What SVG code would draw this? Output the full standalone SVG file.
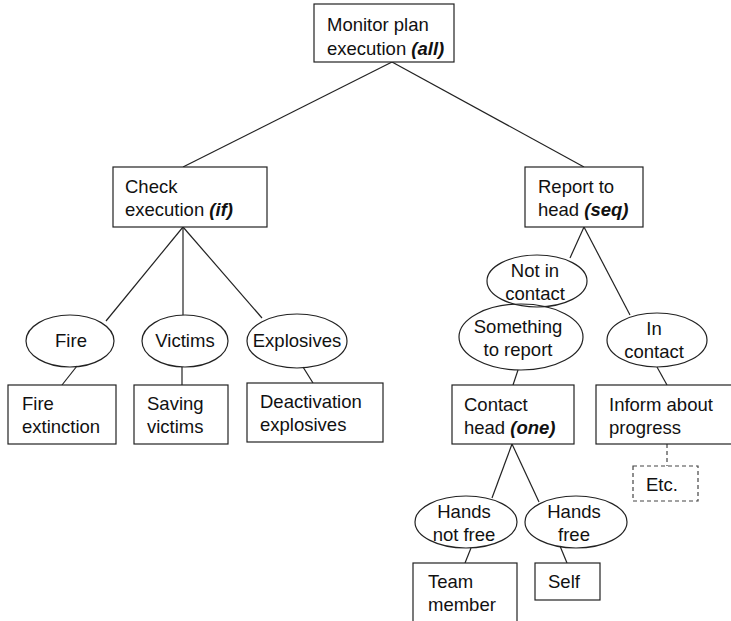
<svg xmlns="http://www.w3.org/2000/svg" width="731" height="621" viewBox="0 0 731 621">
  <style>
    .box { fill: #ffffff; stroke: #222222; stroke-width: 1.2; }
    .dash { fill: #ffffff; stroke: #444444; stroke-width: 1.2; stroke-dasharray: 4 3; }
    .oval { fill: none; stroke: #222222; stroke-width: 1.2; }
    .edge { stroke: #222222; stroke-width: 1.2; fill: none; }
    .edge-dash { stroke: #444444; stroke-width: 1.2; fill: none; stroke-dasharray: 4 3; }
    text { font-family: "Liberation Sans", Arial, sans-serif; font-size: 18.5px; fill: #111111; }
    .c { text-anchor: middle; }
    .op { font-weight: bold; font-style: italic; }
  </style>
  <rect width="731" height="621" fill="#ffffff"/>

  <!-- connectors -->
  <g id="connectors">
    <line class="edge" x1="392" y1="62" x2="183" y2="167"/>
    <line class="edge" x1="392" y1="62" x2="584" y2="167"/>
    <line class="edge" x1="183" y1="227" x2="106" y2="321"/>
    <line class="edge" x1="183" y1="227" x2="183" y2="315"/>
    <line class="edge" x1="183" y1="227" x2="262" y2="318"/>
    <line class="edge" x1="77" y1="366" x2="62" y2="385"/>
    <line class="edge" x1="182" y1="367" x2="182" y2="385"/>
    <line class="edge" x1="303" y1="367" x2="313" y2="383"/>
    <line class="edge" x1="584" y1="227" x2="570" y2="258"/>
    <line class="edge" x1="584" y1="227" x2="630" y2="315"/>
    <line class="edge" x1="518" y1="370" x2="513" y2="385"/>
    <line class="edge" x1="657" y1="367" x2="667" y2="385"/>
    <line class="edge-dash" x1="667" y1="444" x2="667" y2="466"/>
    <line class="edge" x1="512" y1="444" x2="492" y2="498"/>
    <line class="edge" x1="512" y1="444" x2="539" y2="502"/>
    <line class="edge" x1="471" y1="548" x2="465" y2="563"/>
    <line class="edge" x1="560" y1="546" x2="567" y2="563"/>
  </g>

  <g id="monitor">
    <rect class="box" x="314" y="4" width="140" height="58"/>
    <text x="327" y="31">Monitor plan</text>
    <text x="327" y="55">execution <tspan class="op">(all)</tspan></text>
  </g>

  <g id="check">
    <rect class="box" x="113" y="167" width="154" height="60"/>
    <text x="125" y="193">Check</text>
    <text x="125" y="216">execution <tspan class="op">(if)</tspan></text>
  </g>

  <g id="report">
    <rect class="box" x="525" y="167" width="118" height="60"/>
    <text x="538" y="193">Report to</text>
    <text x="538" y="216">head <tspan class="op">(seq)</tspan></text>
  </g>

  <g id="fire">
    <ellipse class="oval" cx="70" cy="341" rx="44" ry="26"/>
    <text class="c" x="71" y="347">Fire</text>
  </g>
  <g id="victims">
    <ellipse class="oval" cx="185" cy="341" rx="43" ry="26"/>
    <text class="c" x="185" y="347">Victims</text>
  </g>
  <g id="explosives">
    <ellipse class="oval" cx="297" cy="341" rx="50" ry="27"/>
    <text class="c" x="297" y="347">Explosives</text>
  </g>

  <g id="fire-extinction">
    <rect class="box" x="8" y="385" width="108" height="59"/>
    <text x="22" y="410">Fire</text>
    <text x="22" y="433">extinction</text>
  </g>
  <g id="saving-victims">
    <rect class="box" x="134" y="385" width="94" height="59"/>
    <text x="147" y="410">Saving</text>
    <text x="147" y="433">victims</text>
  </g>
  <g id="deactivation">
    <rect class="box" x="247" y="383" width="136" height="59"/>
    <text x="260" y="408">Deactivation</text>
    <text x="260" y="431">explosives</text>
  </g>

  <g id="something-to-report">
    <ellipse class="oval" cx="521" cy="337" rx="62" ry="33"/>
    <text class="c" x="518" y="333">Something</text>
    <text class="c" x="518" y="356">to report</text>
  </g>
  <g id="not-in-contact">
    <ellipse class="oval" cx="537" cy="281" rx="50" ry="26"/>
    <text class="c" x="535" y="277">Not in</text>
    <text class="c" x="535" y="300">contact</text>
  </g>
  <g id="in-contact">
    <ellipse class="oval" cx="657" cy="340" rx="50" ry="27"/>
    <text class="c" x="654" y="335">In</text>
    <text class="c" x="654" y="358">contact</text>
  </g>

  <g id="contact-head">
    <rect class="box" x="452" y="385" width="122" height="59"/>
    <text x="464" y="411">Contact</text>
    <text x="464" y="434">head <tspan class="op">(one)</tspan></text>
  </g>
  <g id="inform">
    <rect class="box" x="596" y="385" width="140" height="59"/>
    <text x="609" y="411">Inform about</text>
    <text x="609" y="434">progress</text>
  </g>
  <g id="etc">
    <rect class="dash" x="633" y="466" width="65" height="35"/>
    <text x="646" y="491">Etc.</text>
  </g>

  <g id="hands-not-free">
    <ellipse class="oval" cx="466" cy="522" rx="51" ry="26"/>
    <text class="c" x="464" y="518">Hands</text>
    <text class="c" x="464" y="541">not free</text>
  </g>
  <g id="hands-free">
    <ellipse class="oval" cx="576" cy="522" rx="51" ry="26"/>
    <text class="c" x="574" y="518">Hands</text>
    <text class="c" x="574" y="541">free</text>
  </g>

  <g id="team-member">
    <rect class="box" x="413" y="563" width="104" height="70"/>
    <text x="428" y="588">Team</text>
    <text x="428" y="611">member</text>
  </g>
  <g id="self">
    <rect class="box" x="535" y="563" width="65" height="37"/>
    <text x="548" y="588">Self</text>
  </g>
</svg>
